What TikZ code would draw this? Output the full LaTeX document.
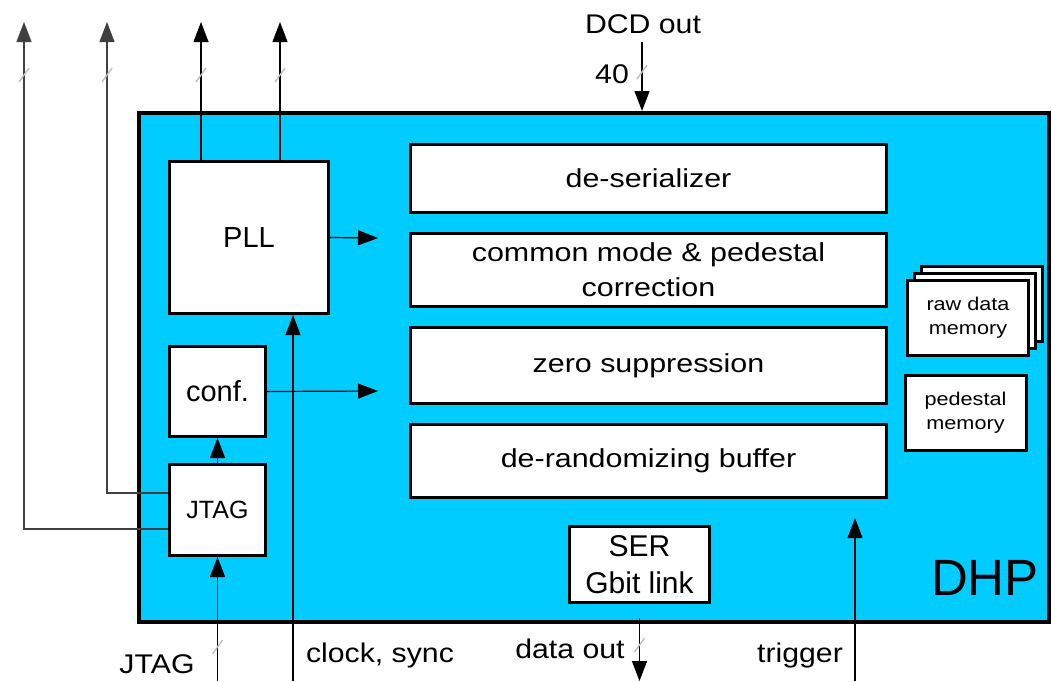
\documentclass[tikz,border=0pt]{standalone}
\usepackage{fontspec}
\setmainfont{Liberation Sans}
\newfontfamily\widefont{Liberation Sans}[FakeStretch=1.17]
\newfontfamily\lblfont{Liberation Sans}[FakeStretch=1.12]
\usetikzlibrary{arrows.meta}
\definecolor{dhpcyan}{RGB}{0,204,255}

\begin{document}
\begin{tikzpicture}[x=1pt,y=-1pt,
	blk/.style={draw,line width=3pt,fill=white,inner sep=0pt,align=center},
	stage/.style={blk,minimum width=476pt,font=\widefont\fontsize{26}{35}\selectfont},
	mem/.style={blk,minimum width=121pt,minimum height=75pt,font=\widefont\fontsize{18.5}{24}\selectfont},
	lbl/.style={anchor=base,inner sep=0pt,font=\lblfont\fontsize{27}{30}\selectfont},
	sig/.style={line width=1.2pt,-{Triangle[length=20pt,width=15pt]}},
	busmark/.style={gray!50,line width=1.4pt}]
	\useasboundingbox (0,0) rectangle (1052,681);

	% chip outline
	\draw[line width=4pt,fill=dhpcyan] (139,113) rectangle (1049,622);
	\node[font=\fontsize{51}{51}\selectfont] (dhp) at (985,578) {DHP};

	% left column
	\node[blk,minimum width=159pt,minimum height=152pt,font=\fontsize{29}{32}\selectfont] (pll) at (249,237.5) {PLL};
	\node[blk,minimum width=96pt,minimum height=90pt,font=\fontsize{29}{32}\selectfont] (conf) at (217.5,391.5) {conf.};
	\node[blk,minimum width=96pt,minimum height=91pt,font=\fontsize{25}{28}\selectfont] (jtag) at (217.5,510) {JTAG};

	% processing chain
	\node[stage,minimum height=68pt] (deser) at (648.5,178.5) {de-serializer};
	\node[stage,minimum height=73pt] (cmc) at (648.5,270) {common mode \& pedestal\\correction};
	\node[stage,minimum height=76pt] (zs) at (648.5,365.5) {zero suppression};
	\node[stage,minimum height=73pt] (drb) at (648.5,461) {de-randomizing buffer};
	\node[blk,minimum width=140pt,minimum height=76pt,font=\fontsize{30}{37}\selectfont] (ser) at (639.5,564.5) {SER\\Gbit link};

	% memories
	\foreach \d in {14,7}
		\node[mem] at (968+\d,318-\d) {};
	\node[mem] (raw) at (968,318) {raw data\\memory};
	\node[mem] (ped) at (965.5,413) {pedestal\\memory};

	% free ends
	\coordinate (tck) at (24,22);
	\coordinate (tdo) at (107,22);
	\coordinate (clka) at (201,22);
	\coordinate (clkb) at (280,22);
	\coordinate (dcdin) at (642,42);
	\coordinate (dcdtop) at (642,111);
	\coordinate (pllout) at (378,238);
	\coordinate (confout) at (378,391);
	\coordinate (jtagin) at (217.5,681);
	\coordinate (clkin) at (293,681);
	\coordinate (dout) at (639.5,681);
	\coordinate (trigin) at (855,681);
	\coordinate (trigtip) at (855,518);

	% signals
	\draw[sig,black!75] (jtag.west |- 0,529) -| (tck);
	\draw[sig,black!75] (jtag.west |- 0,493) -| (tdo);
	\draw[sig] (pll.north -| clka) -- (clka);
	\draw[sig] (pll.north -| clkb) -- (clkb);
	\draw[sig] (dcdin) -- (dcdtop);
	\draw[sig] (pll.east) -- (pllout);
	\draw[sig] (conf.east) -- (confout);
	\draw[sig] (jtag) -- (conf);
	\draw[sig] (jtagin) -- (jtag.south);
	\draw[sig] (clkin) -- (clkin |- pll.south);
	\draw[sig] ([yshift=-14pt]ser.south) -- (dout);
	\draw[sig] (trigin) -- (trigtip);

	% bus width marks
	\foreach \x/\y in {24/75,107/75,201/75,280/75,642/72,217.5/647,639.5/645}
		\draw[busmark] (\x-5,\y+7) -- (\x+5,\y-7);

	% labels
	\node[lbl] (dcdlbl) at (643,33) {DCD out};
	\node[lbl] (buswd) at (612,83) {40};
	\node[lbl] (jtaglbl) at (157,673) {JTAG};
	\node[lbl] (clklbl) at (380,662) {clock, sync};
	\node[lbl] (doutlbl) at (570,658) {data out};
	\node[lbl] (triglbl) at (800,662) {trigger};
\end{tikzpicture}
\end{document}
